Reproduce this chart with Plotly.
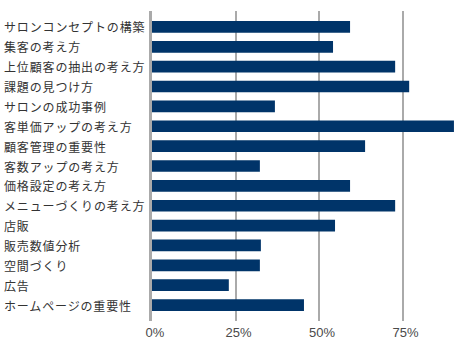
import plotly.graph_objects as go

categories = [
    "サロンコンセプトの構築",
    "集客の考え方",
    "上位顧客の抽出の考え方",
    "課題の見つけ方",
    "サロンの成功事例",
    "客単価アップの考え方",
    "顧客管理の重要性",
    "客数アップの考え方",
    "価格設定の考え方",
    "メニューづくりの考え方",
    "店販",
    "販売数値分析",
    "空間づくり",
    "広告",
    "ホームページの重要性",
]
values = [59.3, 54.2, 72.8, 77.0, 36.8, 90.4, 63.8, 32.3, 59.3, 72.8, 54.8, 32.6, 32.3, 23.0, 45.5]
tick_vals = [0, 25, 50, 75]
tick_text = ["0%", "25%", "50%", "75%"]

W, H = 460, 356
L, R, T, B = 152, 0, 11, 35
plot_w = W - L - R
x_max = plot_w / 3.34

fig = go.Figure()
fig.add_trace(go.Bar(
    y=categories,
    x=values,
    orientation="h",
    marker=dict(color="#003469", line=dict(width=0)),
    width=0.59,
    hoverinfo="skip",
))

annotations = []
for c in categories:
    annotations.append(dict(
        x=(2 - L) / plot_w, xref="paper", xanchor="left",
        y=c, yref="y", yanchor="middle",
        text='<span style="letter-spacing:0.85px">' + c + '</span>',
        showarrow=False,
        font=dict(family="Noto Sans CJK JP", size=12, color="#333333"),
    ))

fig.update_layout(
    width=W, height=H,
    margin=dict(l=L, r=R, t=T, b=B, pad=0),
    paper_bgcolor="white", plot_bgcolor="white",
    showlegend=False,
    annotations=annotations,
    xaxis=dict(
        range=[0, x_max],
        tickvals=tick_vals, ticktext=tick_text,
        showgrid=True, gridcolor="#aaaaaa", gridwidth=1.5,
        zeroline=False, showline=False, ticks="",
        tickfont=dict(family="Liberation Sans", size=13, color="#4a4a4a"),
        ticklabelshift=3,
        ticklabelstandoff=2,
        fixedrange=True,
    ),
    yaxis=dict(
        categoryorder="array", categoryarray=categories,
        range=[14.8, -0.8],
        showticklabels=False, showgrid=False, zeroline=False,
        showline=True, linecolor="#aaaaaa", linewidth=3, ticks="",
        fixedrange=True,
    ),
)

fig.write_html(
    "out.html",
    config={"displayModeBar": False},
    post_script="document.body.style.margin='0';document.body.style.padding='0';",
)
